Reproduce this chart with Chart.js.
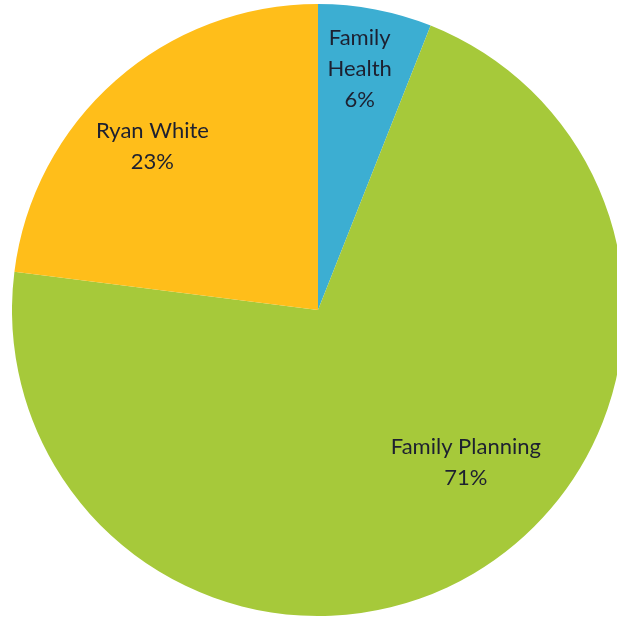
<!DOCTYPE html>
<html>
<head>
<meta charset="utf-8">
<script src="https://cdn.jsdelivr.net/npm/chart.js@4"></script>
<style>
  html, body { margin: 0; padding: 0; background: #fff; overflow: hidden; width: 617px; height: 619px; }
  #wrap { position: absolute; left: 12px; top: 4px; }
</style>
</head>
<body>
<div id="wrap"><canvas id="pie" width="612" height="612"></canvas></div>
<script>
// data
const categories = ['Family Health', 'Family Planning', 'Ryan White']
const shares = [6, 71, 23]
const labelLines = [['Family', 'Health'], ['Family Planning'], ['Ryan White']]
const sliceColors = ['#3caed2', '#a6c93a', '#ffbe1a']

// where each label sits: fraction of radius + small angle nudge (degrees)
const labelPlace = [
    { r: 0.80, da: -1 },
    { r: 0.693, da: -13.6 },
    { r: 0.76, da: -4 }
]

const pieLabels = {
    id: 'pieLabels',
    afterDatasetsDraw(chart) {
        const ctx = chart.ctx
        const meta = chart.getDatasetMeta(0)
        ctx.save()
        ctx.font = '22px Lato, "Open Sans", sans-serif'
        ctx.fillStyle = '#1d2030'
        ctx.textAlign = 'center'
        ctx.textBaseline = 'middle'
        meta.data.forEach((arc, i) => {
            const p = arc.getProps(['x', 'y', 'startAngle', 'endAngle', 'outerRadius'], true)
            const mid = (p.startAngle + p.endAngle) / 2 + labelPlace[i].da * Math.PI / 180
            const rr = p.outerRadius * labelPlace[i].r
            const cx = p.x + Math.cos(mid) * rr
            const cy = p.y + Math.sin(mid) * rr
            const lines = labelLines[i].concat([shares[i] + '%'])
            const lh = 31
            const top = cy - (lines.length - 1) * lh / 2
            lines.forEach((t, j) => ctx.fillText(t, cx, top + j * lh))
        })
        ctx.restore()
    }
}

new Chart(document.getElementById('pie'), {
    type: 'pie',
    data: {
        labels: categories,
        datasets: [{
            data: shares,
            backgroundColor: sliceColors,
            borderWidth: 0
        }]
    },
    options: {
        responsive: false,
        animation: false,
        layout: { padding: 0 },
        plugins: {
            legend: { display: false },
            tooltip: { enabled: false }
        }
    },
    plugins: [pieLabels]
})
</script>
</body>
</html>
